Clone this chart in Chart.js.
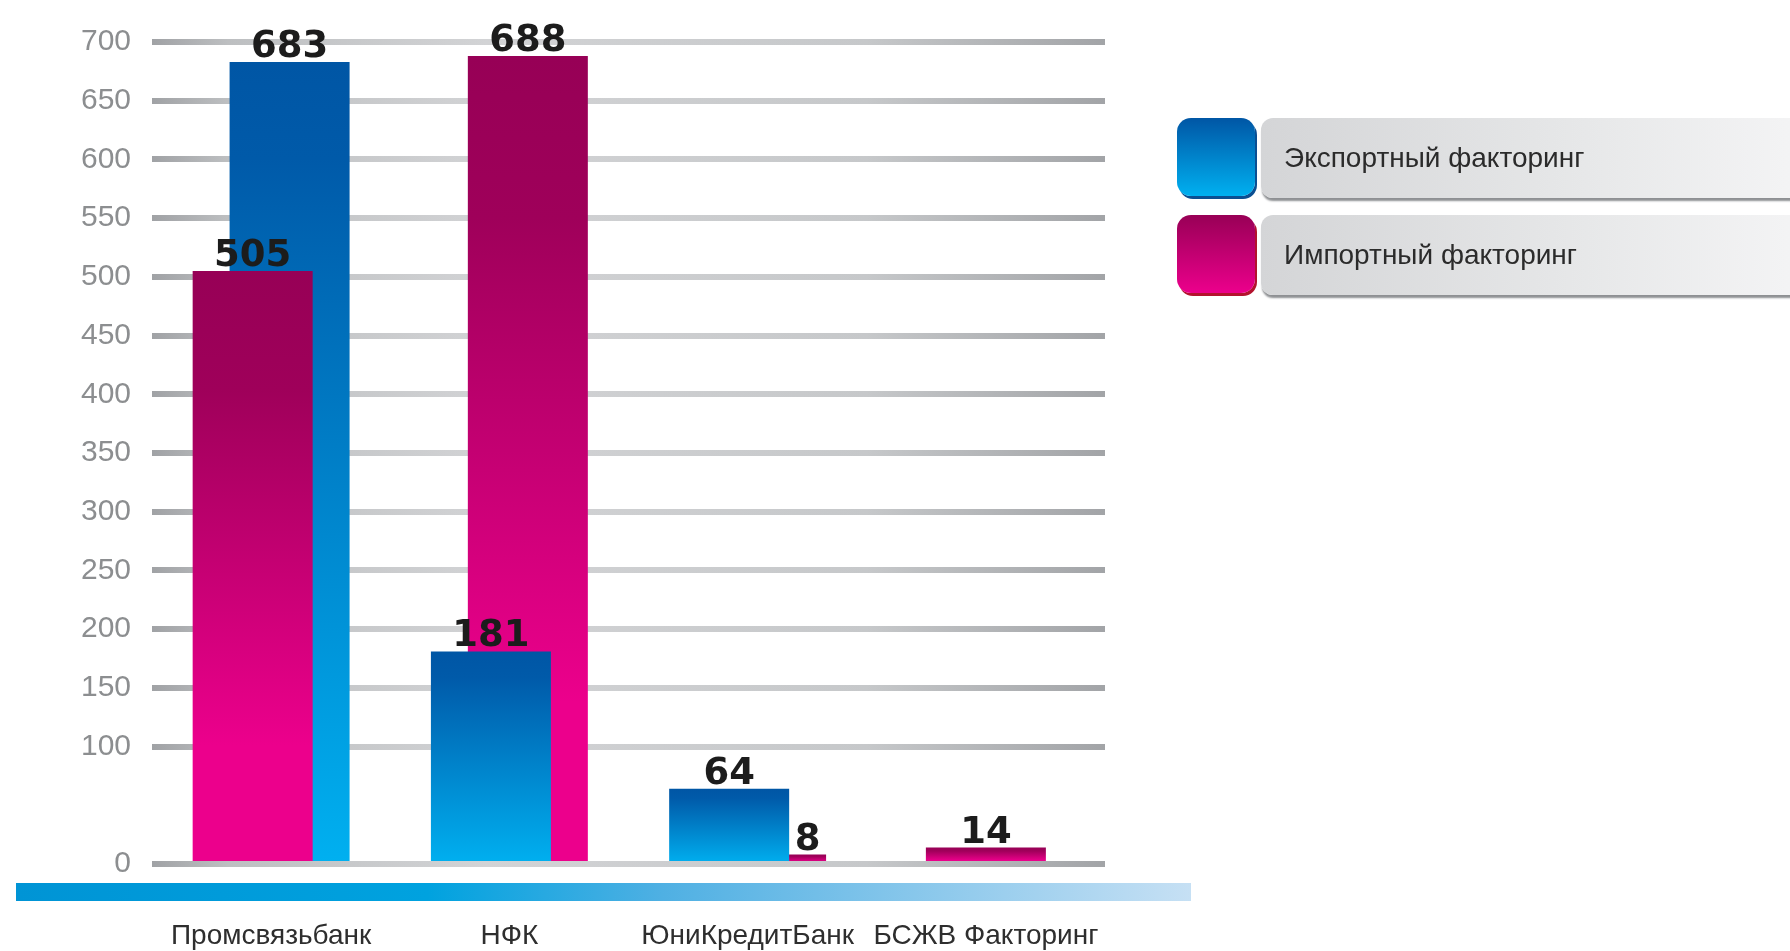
<!DOCTYPE html>
<html lang="ru">
<head>
<meta charset="utf-8">
<script src="https://cdn.jsdelivr.net/npm/chart.js@4/dist/chart.umd.min.js"></script>
<style>
  body { margin: 0; background: #fff; }
  #wrap { position: relative; width: 1790px; height: 951px; overflow: hidden; }
  .swatch { position: absolute; left: 1177px; width: 78px; height: 78px; border-radius: 14px; }
  .pill {
    position: absolute; left: 1261px; width: 560px; height: 80px; border-radius: 12px;
    background: linear-gradient(to right, #d4d5d7, #e6e7e8 55%, #f5f5f6);
    box-shadow: 0 4px 2px -1px #8e9093;
    font: 28px "Liberation Sans", Arial, sans-serif; color: #2b2b2b;
    line-height: 80px; padding-left: 23px; box-sizing: border-box;
  }
</style>
</head>
<body>
<div id="wrap">
  <canvas id="factoringChart" width="1790" height="951"></canvas>
  <div id="legend"></div>
</div>
<script>
// banks on the x axis
const categories = ['Промсвязьбанк', 'НФК', 'ЮниКредитБанк', 'БСЖВ Факторинг'];
const seriesNames = ['Экспортный факторинг', 'Импортный факторинг'];
const exportValues = [683, 181, 64, null];
const importValues = [505, 688, 8, 14];
// which series stands in front (left) of the pair for each bank: 0 = export, 1 = import
const frontSeries = [1, 0, 0, 1];
const yTicks = [0, 100, 150, 200, 250, 300, 350, 400, 450, 500, 550, 600, 650, 700];

const seriesValues = [exportValues, importValues];
const gradientStops = [
  [[0, '#0056a5'], [0.12, '#005aa9'], [1, '#00b0f0']],
  [[0, '#970056'], [0.2, '#9f005a'], [0.8, '#ec008c'], [1, '#ec008c']]
];

const seriesOf = (datasetIndex, i) => datasetIndex === 0 ? frontSeries[i] : 1 - frontSeries[i];

// front and back bars built from the two series
const frontValues = categories.map((c, i) => seriesValues[frontSeries[i]][i]);
const backValues = categories.map((c, i) => seriesValues[1 - frontSeries[i]][i]);

function barFill(ctx) {
  const chart = ctx.chart;
  if (ctx.type !== 'data' || !chart.chartArea || ctx.raw == null) return '#888';
  const y = chart.scales.y;
  const top = y.getPixelForValue(ctx.raw);
  const bottom = y.getPixelForValue(0);
  const g = chart.ctx.createLinearGradient(0, top, 0, bottom);
  gradientStops[seriesOf(ctx.datasetIndex, ctx.dataIndex)].forEach(s => g.addColorStop(s[0], s[1]));
  return g;
}

function gridFill(ctx) {
  const chart = ctx.chart;
  const area = chart.chartArea;
  if (!area) return '#bcbec0';
  const g = chart.ctx.createLinearGradient(area.left, 0, area.right, 0);
  g.addColorStop(0, '#a0a2a5');
  g.addColorStop(0.08, '#bdbfc1');
  g.addColorStop(0.35, '#d2d3d5');
  g.addColorStop(0.75, '#c6c8ca');
  g.addColorStop(1, '#a2a4a7');
  return g;
}

// blue band under the plot
const axisBand = {
  id: 'axisBand',
  afterDraw(chart) {
    const { ctx, chartArea } = chart;
    const top = chartArea.bottom + 19;
    const right = chartArea.right + 86;
    const g = ctx.createLinearGradient(16, 0, right, 0);
    g.addColorStop(0, '#0094d5');
    g.addColorStop(0.35, '#00a2df');
    g.addColorStop(0.55, '#4fb0e3');
    g.addColorStop(1, '#c6e0f4');
    ctx.save();
    ctx.fillStyle = g;
    ctx.fillRect(16, top, right - 16, 18);
    ctx.restore();
  }
};

// numbers above the bars
const valueLabels = {
  id: 'valueLabels',
  afterDatasetsDraw(chart) {
    const ctx = chart.ctx;
    const front = chart.getDatasetMeta(0).data;
    ctx.save();
    ctx.font = 'bold 37px "DejaVu Sans", sans-serif';
    ctx.fillStyle = '#1c1c1c';
    ctx.textAlign = 'center';
    ctx.textBaseline = 'alphabetic';
    [0, 1].forEach(d => {
      const values = d === 0 ? frontValues : backValues;
      chart.getDatasetMeta(d).data.forEach((el, i) => {
        if (values[i] == null) return;
        let x = el.x;
        // a lower back bar only shows to the right of the front one
        if (d === 1 && frontValues[i] != null && values[i] < frontValues[i]) {
          x = (front[i].x + front[i].width / 2 + el.x + el.width / 2) / 2;
        }
        ctx.fillText(values[i], x, el.y - 5);
      });
    });
    ctx.restore();
  }
};

const barOpts = { categoryPercentage: 0.31, barPercentage: 3.3, maxBarThickness: 120, skipNull: true, backgroundColor: barFill, borderWidth: 0 };

new Chart(document.getElementById('factoringChart'), {
  type: 'bar',
  data: {
    labels: categories,
    datasets: [
      Object.assign({ label: 'front', data: frontValues }, barOpts),
      Object.assign({ label: 'back', data: backValues }, barOpts)
    ]
  },
  options: {
    responsive: false,
    animation: false,
    layout: { padding: { top: 42, right: 685, bottom: 0, left: 0 } },
    plugins: { legend: { display: false }, tooltip: { enabled: false } },
    scales: {
      x: {
        grid: { display: false, drawTicks: false },
        border: { display: false },
        ticks: { color: '#2e2e2e', padding: 55, maxRotation: 0, autoSkip: false,
                 font: { family: '"Liberation Sans", Arial, sans-serif', size: 28 } },
        afterFit: s => { s.height = 87; }
      },
      y: {
        min: 0,
        max: 700,
        afterBuildTicks: s => { s.ticks = yTicks.map(v => ({ value: v })); },
        afterFit: s => { s.width = 152; },
        grid: { color: gridFill, lineWidth: 6, drawTicks: false },
        border: { display: false },
        ticks: { color: '#8c8e90', padding: 21,
                 font: { family: '"Liberation Sans", Arial, sans-serif', size: 30 } }
      }
    }
  },
  plugins: [axisBand, valueLabels]
});

// legend boxes on the right
const swatchColors = [
  ['#0056a5', '#00b0f0', '#0b4f92'],
  ['#980056', '#ec008c', '#b3122e']
];
const legend = document.getElementById('legend');
seriesNames.forEach((name, k) => {
  const top = 118 + k * 97;
  const sw = document.createElement('div');
  sw.className = 'swatch';
  sw.style.top = top + 'px';
  sw.style.background = 'linear-gradient(to bottom, ' + swatchColors[k][0] + ', ' + swatchColors[k][1] + ')';
  sw.style.boxShadow = '2px 3px 0 ' + swatchColors[k][2];
  const pill = document.createElement('div');
  pill.className = 'pill';
  pill.style.top = top + 'px';
  pill.textContent = name;
  legend.appendChild(sw);
  legend.appendChild(pill);
});
</script>
</body>
</html>
